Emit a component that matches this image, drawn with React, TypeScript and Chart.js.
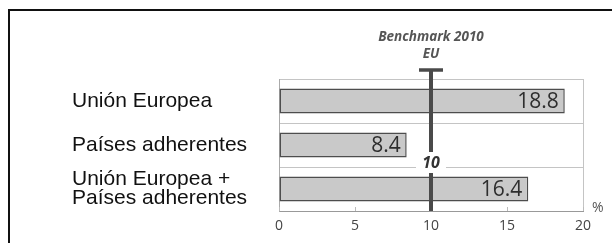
import React, { useEffect, useRef } from "react";
import { Chart, registerables } from "chart.js";

Chart.register(...registerables);

const categories: (string | string[])[] = [
  "Unión Europea",
  "Países adherentes",
  ["Unión Europea +", "Países adherentes"],
];
const values = [18.8, 8.4, 16.4];
const xMin = 0;
const xMax = 20;
const xStep = 5;
const benchmarkValue = 10;
const benchmarkTitle = ["Benchmark 2010", "EU"];
const unitLabel = "%";

const overlayPlugin = {
  id: "overlay",
  afterDatasetsDraw(chart: any) {
    const { ctx, chartArea, scales } = chart;
    const x = scales.x;
    const y = scales.y;
    const meta = chart.getDatasetMeta(0);
    ctx.save();

    // value labels inside bar ends
    ctx.font = '21px "Open Sans"';
    ctx.fillStyle = "#2e2e2e";
    ctx.textAlign = "right";
    ctx.textBaseline = "middle";
    meta.data.forEach((bar: any, i: number) => {
      ctx.fillText(values[i].toFixed(1), bar.x - 6, bar.y + 1);
    });

    // small inner tick marks
    ctx.strokeStyle = "#bbb";
    ctx.lineWidth = 1;
    x.ticks.forEach((t: any) => {
      const px = Math.round(x.getPixelForValue(t.value)) + 0.5;
      ctx.beginPath();
      ctx.moveTo(px, chartArea.bottom);
      ctx.lineTo(px, chartArea.bottom - 4);
      ctx.stroke();
    });

    // benchmark line
    const bx = x.getPixelForValue(benchmarkValue);
    const gapY = (y.getPixelForValue(1) + y.getPixelForValue(2)) / 2;
    const capY = chartArea.top - 9;
    ctx.strokeStyle = "#4a4a4a";
    ctx.lineWidth = 4;
    ctx.lineCap = "butt";
    ctx.beginPath();
    ctx.moveTo(bx, capY);
    ctx.lineTo(bx, chartArea.bottom);
    ctx.stroke();
    ctx.lineWidth = 3.5;
    ctx.beginPath();
    ctx.moveTo(bx - 12, capY);
    ctx.lineTo(bx + 12, capY);
    ctx.stroke();

    // "10" label box
    ctx.fillStyle = "#fff";
    ctx.fillRect(bx - 15, gapY - 15, 30, 21);
    ctx.fillStyle = "#333";
    ctx.font = 'bold italic 16px "Open Sans"';
    ctx.textAlign = "center";
    ctx.textBaseline = "middle";
    ctx.fillText(String(benchmarkValue), bx, gapY - 4);

    // benchmark title
    ctx.fillStyle = "#555";
    ctx.font = 'bold italic 13.5px "Open Sans"';
    ctx.fillText(benchmarkTitle[0], bx, chartArea.top - 42);
    ctx.fillText(benchmarkTitle[1], bx, chartArea.top - 25);

    // unit
    ctx.font = '14px "Open Sans"';
    ctx.fillStyle = "#555";
    ctx.textAlign = "left";
    ctx.fillText(unitLabel, chartArea.right + 9, chartArea.bottom - 3);

    ctx.restore();
  },
};

export default function App() {
  const canvasRef = useRef<HTMLCanvasElement | null>(null);

  useEffect(() => {
    const canvas = canvasRef.current;
    if (!canvas) return;
    const chart = new Chart(canvas, {
      type: "bar",
      data: {
        labels: categories as any,
        datasets: [
          {
            data: values,
            backgroundColor: "#c9c9c9",
            borderColor: "#4d4d4d",
            borderWidth: 1.5,
            borderSkipped: false,
            barPercentage: 0.57,
            categoryPercentage: 1,
          },
        ],
      },
      options: {
        indexAxis: "y",
        responsive: false,
        animation: false,
        devicePixelRatio: 1,
        layout: { padding: { left: 72, top: 79, right: 29, bottom: 0 } },
        plugins: {
          legend: { display: false },
          tooltip: { enabled: false },
          title: { display: false },
        },
        scales: {
          x: {
            type: "linear",
            min: xMin,
            max: xMax,
            afterFit: (s: any) => {
              s.height = 32;
            },
            ticks: {
              stepSize: xStep,
              padding: 7,
              color: "#444",
              font: { family: "Open Sans", size: 14 },
            },
            grid: {
              drawTicks: false,
              color: (c: any) => (c.tick && c.tick.value === xMax ? "#c4c4c4" : "rgba(0,0,0,0)"),
            },
            border: { display: true, color: "#999", width: 1 },
          },
          y: {
            afterFit: (s: any) => {
              s.width = 207;
            },
            ticks: {
              crossAlign: "far",
              color: "#111",
              font: { family: "Liberation Sans", size: 21, lineHeight: 0.92 },
            },
            grid: {
              drawTicks: false,
              color: "#c4c4c4",
              offset: true,
            },
            border: { display: true, color: "#aaa", width: 1 },
          },
        },
      },
      plugins: [overlayPlugin],
    });
    return () => chart.destroy();
  }, []);

  return (
    <div style={{ position: "fixed", left: 0, top: 0, width: 612, height: 243, background: "#fff", overflow: "hidden" }}>
      <div
        style={{
          position: "absolute",
          left: 8,
          top: 9,
          width: 700,
          height: 300,
          borderLeft: "2.5px solid #111",
          borderTop: "2.5px solid #111",
        }}
      />
      <canvas ref={canvasRef} width={612} height={243} style={{ position: "absolute", left: 0, top: 0 }} />
    </div>
  );
}
